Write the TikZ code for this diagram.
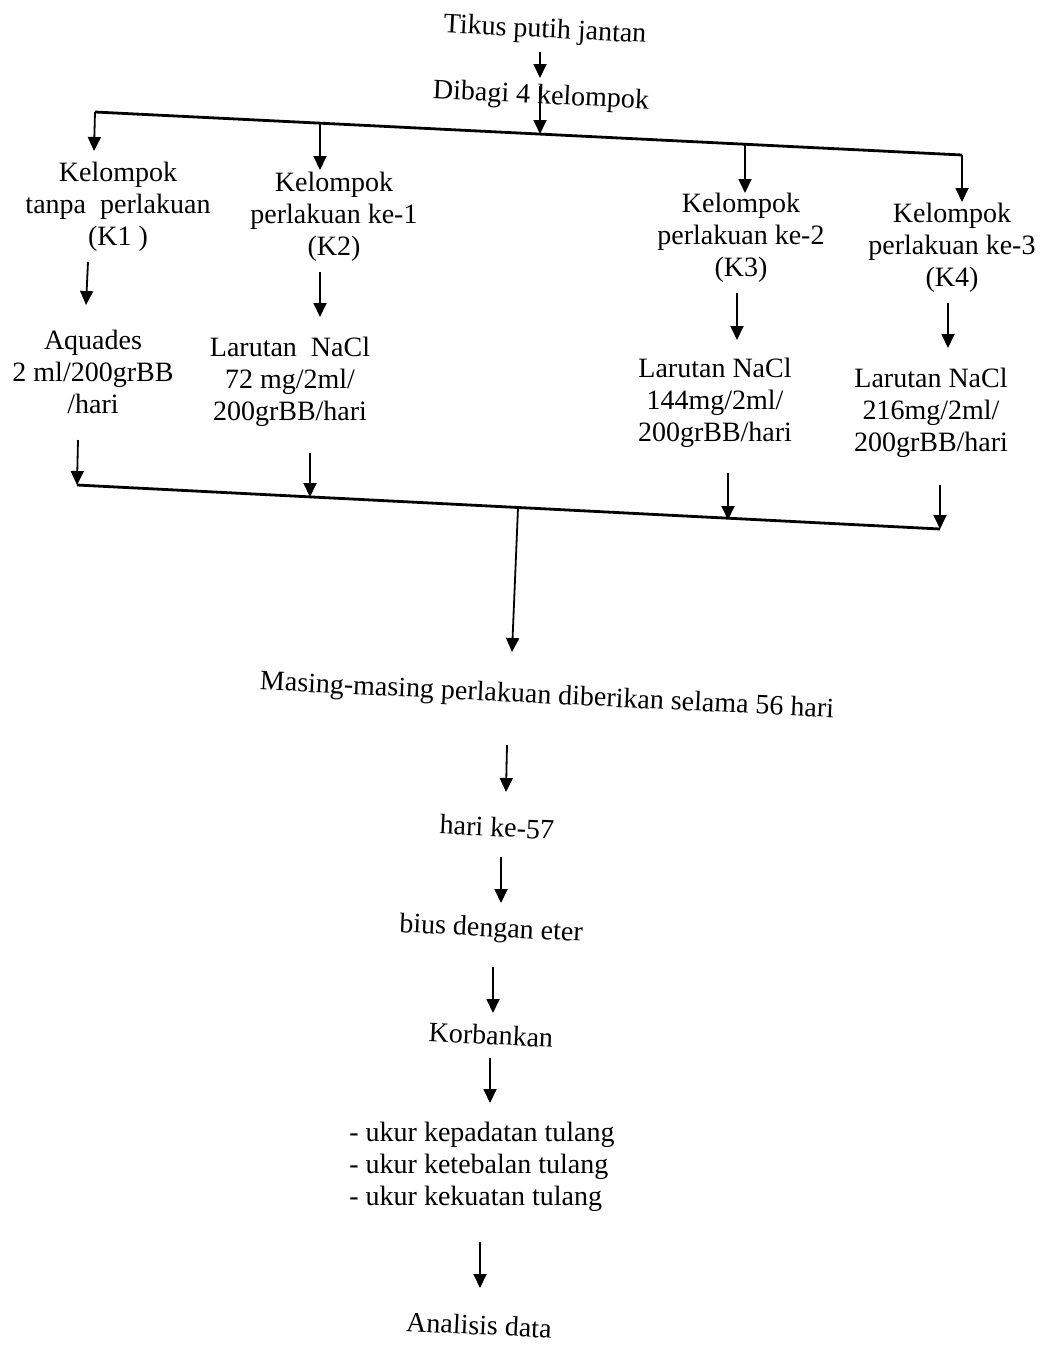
\documentclass[tikz,border=0pt]{standalone}
\usepackage{fontspec}
\setmainfont{Liberation Serif}
\usetikzlibrary{arrows.meta}
\begin{document}
\begin{tikzpicture}[x=0.5pt,y=-0.5pt,
  txt/.style={font=\fontsize{14}{16}\selectfont, align=center, inner sep=0pt},
  rtxt/.style={txt, rotate=-2.8},
  arr/.style={-{Triangle[length=7pt,width=6.5pt]}, line width=0.9pt},
  bus/.style={line width=1.4pt}]
\useasboundingbox (0,0) rectangle (1044,1345);

% text nodes
\node[rtxt] (tikus)  at (545,31)  {Tikus putih jantan};
\node[rtxt] (dibagi) at (541,97)  {Dibagi 4 kelompok};
\node[txt] (k1) at (118,207) {Kelompok\\tanpa\ \ perlakuan\\(K1\ )};
\node[txt] (k2) at (334,217) {Kelompok\\perlakuan ke-1\\(K2)};
\node[txt] (k3) at (741,238) {Kelompok\\perlakuan ke-2\\(K3)};
\node[txt] (k4) at (952,248) {Kelompok\\perlakuan ke-3\\(K4)};
\node[txt] (s1) at (93,372)  {Aquades\\2 ml/200grBB\\/hari};
\node[txt] (s2) at (290,382) {Larutan\ \ NaCl\\72 mg/2ml/\\200grBB/hari};
\node[txt] (s3) at (715,403) {Larutan NaCl\\144mg/2ml/\\200grBB/hari};
\node[txt] (s4) at (931,413) {Larutan NaCl\\216mg/2ml/\\200grBB/hari};
\node[rtxt] (masing) at (547,697) {Masing-masing perlakuan diberikan selama 56 hari};
\node[rtxt] (hari)   at (497,827) {hari ke-57};
\node[rtxt] (bius)   at (491,930) {bius dengan eter};
\node[rtxt] (korban) at (491,1035) {Korbankan};
\node[txt, align=left, anchor=west] (ukur) at (349,1167)
  {- ukur kepadatan tulang\\- ukur ketebalan tulang\\- ukur kekuatan tulang};
\node[rtxt] (analisis) at (479,1325) {Analisis data};

% coordinates of connector ends
\coordinate (a1s) at (540,52);   \coordinate (a1e) at (540,78);
\coordinate (a2s) at (540,86);   \coordinate (a2e) at (540,134);
\coordinate (tl) at (95,112);    \coordinate (tr) at (962,155);
\coordinate (t1) at (94,151);
\coordinate (b2) at (320,123);   \coordinate (t2) at (320,170);
\coordinate (b3) at (745,144);   \coordinate (t3) at (745,193);
\coordinate (t4) at (962,202);
\coordinate (m1s) at (88,262);   \coordinate (m1e) at (86,305);
\coordinate (m2s) at (320,272);  \coordinate (m2e) at (320,317);
\coordinate (m3s) at (737,293);  \coordinate (m3e) at (737,340);
\coordinate (m4s) at (948,303);  \coordinate (m4e) at (948,348);
\coordinate (bl) at (77,485);    \coordinate (br) at (940,529);
\coordinate (d1s) at (78,440);
\coordinate (d2s) at (310,453);  \coordinate (d2e) at (310,497);
\coordinate (d3s) at (728,473);  \coordinate (d3e) at (728,520);
\coordinate (d4s) at (940,485);
\coordinate (ls) at (518,508);   \coordinate (le) at (512,652);
\coordinate (c1s) at (507,745);  \coordinate (c1e) at (506,792);
\coordinate (c2s) at (501,857);  \coordinate (c2e) at (501,903);
\coordinate (c3s) at (493,967);  \coordinate (c3e) at (493,1013);
\coordinate (c4s) at (490,1058); \coordinate (c4e) at (490,1103);
\coordinate (c5s) at (480,1242); \coordinate (c5e) at (480,1288);

% connectors
\draw[arr] (a1s) -- (a1e);
\draw[arr] (a2s) -- (a2e);
\draw[bus] (tl) -- (tr);
\draw[arr] (tl) -- (t1);
\draw[arr] (b2) -- (t2);
\draw[arr] (b3) -- (t3);
\draw[arr] (tr) -- (t4);
\draw[arr] (m1s) -- (m1e);
\draw[arr] (m2s) -- (m2e);
\draw[arr] (m3s) -- (m3e);
\draw[arr] (m4s) -- (m4e);
\draw[bus] (bl) -- (br);
\draw[arr] (d1s) -- (bl);
\draw[arr] (d2s) -- (d2e);
\draw[arr] (d3s) -- (d3e);
\draw[arr] (d4s) -- (br);
\draw[arr] (ls) -- (le);
\draw[arr] (c1s) -- (c1e);
\draw[arr] (c2s) -- (c2e);
\draw[arr] (c3s) -- (c3e);
\draw[arr] (c4s) -- (c4e);
\draw[arr] (c5s) -- (c5e);
\end{tikzpicture}
\end{document}
